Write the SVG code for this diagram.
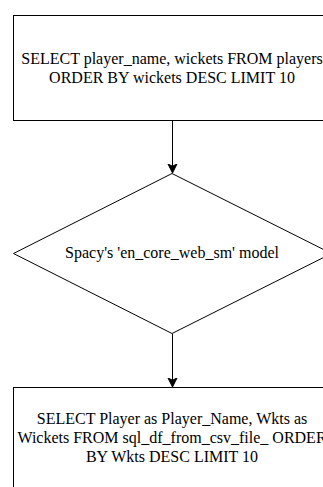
<svg xmlns="http://www.w3.org/2000/svg" width="323" height="487" viewBox="0 0 323 487">
<defs>
<style>
.shape{fill:#ffffff;stroke:#000000;stroke-width:1}
.lbl{font-family:"Liberation Serif","Times New Roman",serif;font-size:16px;fill:#000000;text-anchor:middle}
.edge{fill:none;stroke:#000000;stroke-width:1}
</style>
<marker id="arrow" markerWidth="10" markerHeight="12" refX="9" refY="5" orient="auto" markerUnits="userSpaceOnUse" viewBox="0 0 10 10">
<path d="M0,0.5 L9,5 L0,9.5 L2.2,5 Z" fill="#000000" stroke="#000000" stroke-width="1"/>
</marker>
</defs>
<rect width="323" height="487" fill="#ffffff"/>
<g id="node-query1">
<rect class="shape" x="13.5" y="15.5" width="318" height="105"/>
<text class="lbl" x="172" y="64">SELECT player_name, wickets FROM players</text>
<text class="lbl" x="172" y="83">ORDER BY wickets DESC LIMIT 10</text>
</g>
<g id="node-model">
<polygon class="shape" points="172,173.5 331.5,253.5 172,333.5 13.5,253.5"/>
<text class="lbl" x="172" y="258">Spacy's 'en_core_web_sm' model</text>
</g>
<g id="node-query2">
<rect class="shape" x="13.5" y="387.5" width="318" height="110"/>
<text class="lbl" x="172" y="424">SELECT Player as Player_Name, Wkts as</text>
<text class="lbl" x="172" y="443">Wickets FROM sql_df_from_csv_file_ ORDER</text>
<text class="lbl" x="172" y="462">BY Wkts DESC LIMIT 10</text>
</g>
<g id="connectors">
<line class="edge" x1="172.5" y1="121" x2="172.5" y2="173" marker-end="url(#arrow)"/>
<line class="edge" x1="172.5" y1="334" x2="172.5" y2="387" marker-end="url(#arrow)"/>
</g>
</svg>
